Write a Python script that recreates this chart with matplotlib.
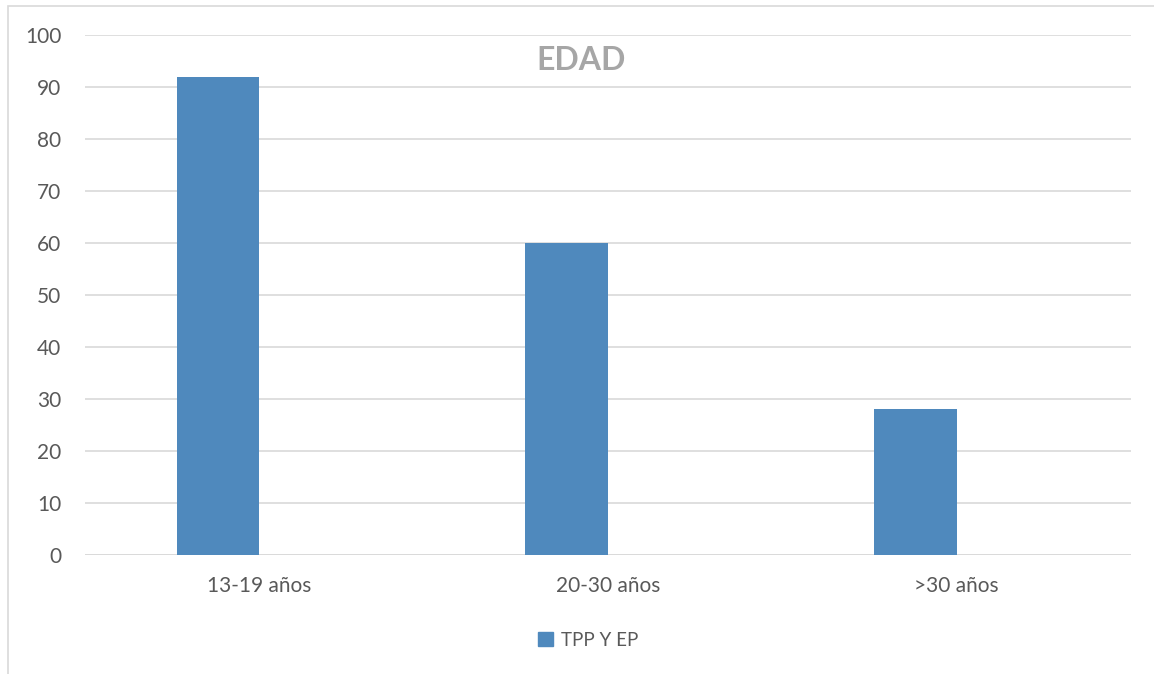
import matplotlib.pyplot as plt
from matplotlib.patches import Rectangle, Patch

plt.rcParams['font.family'] = ['Lato', 'DejaVu Sans']

# data
categories = ['13-19 años', '20-30 años', '>30 años']
tpp_ep = [92, 60, 28]
yticks = [0, 10, 20, 30, 40, 50, 60, 70, 80, 90, 100]

bar_color = '#4F89BD'
grid_color = '#D9D9D9'
text_color = '#595959'

fig = plt.figure(figsize=(11.54, 6.74), dpi=100)
ax = fig.add_axes([85 / 1154, 119 / 674, 1046 / 1154, 520 / 674])

# clustered layout with an empty second series: bar sits left of center
width = 0.237
x = list(range(len(categories)))
ax.bar([i - width / 2 for i in x], tpp_ep, width=width, color=bar_color,
       label='TPP Y EP', zorder=3)

ax.set_xlim(-0.5, len(categories) - 0.5)
ax.set_ylim(0, 100)
ax.set_yticks(yticks)
ax.set_xticks(x)
ax.set_xticklabels(categories)
ax.yaxis.grid(True, color=grid_color, linewidth=1.2, zorder=0)
ax.tick_params(axis='both', length=0, labelsize=15, colors=text_color)
ax.tick_params(axis='y', pad=17)
ax.tick_params(axis='x', pad=15)
for s in ax.spines.values():
    s.set_visible(False)
ax.axhline(0, color=grid_color, linewidth=1.2, zorder=2)

fig.text(581 / 1154, 1 - 60 / 674, 'EDAD', ha='center', va='center',
         fontsize=23, fontweight='bold', color='#A6A6A6')

fig.legend(handles=[Patch(color=bar_color, label='TPP Y EP')], loc='center',
           bbox_to_anchor=(588 / 1154, 1 - 640 / 674), frameon=False,
           fontsize=13.5, handlelength=0.8, handleheight=0.8, handletextpad=0.4,
           labelcolor=text_color)

# outer chart border
fig.patches.append(Rectangle((8 / 1154, -0.1), 1.2, 1.1 - 6 / 674,
                             transform=fig.transFigure, fill=False,
                             edgecolor=grid_color, linewidth=1.2))

fig.savefig('out.png', dpi=100)
